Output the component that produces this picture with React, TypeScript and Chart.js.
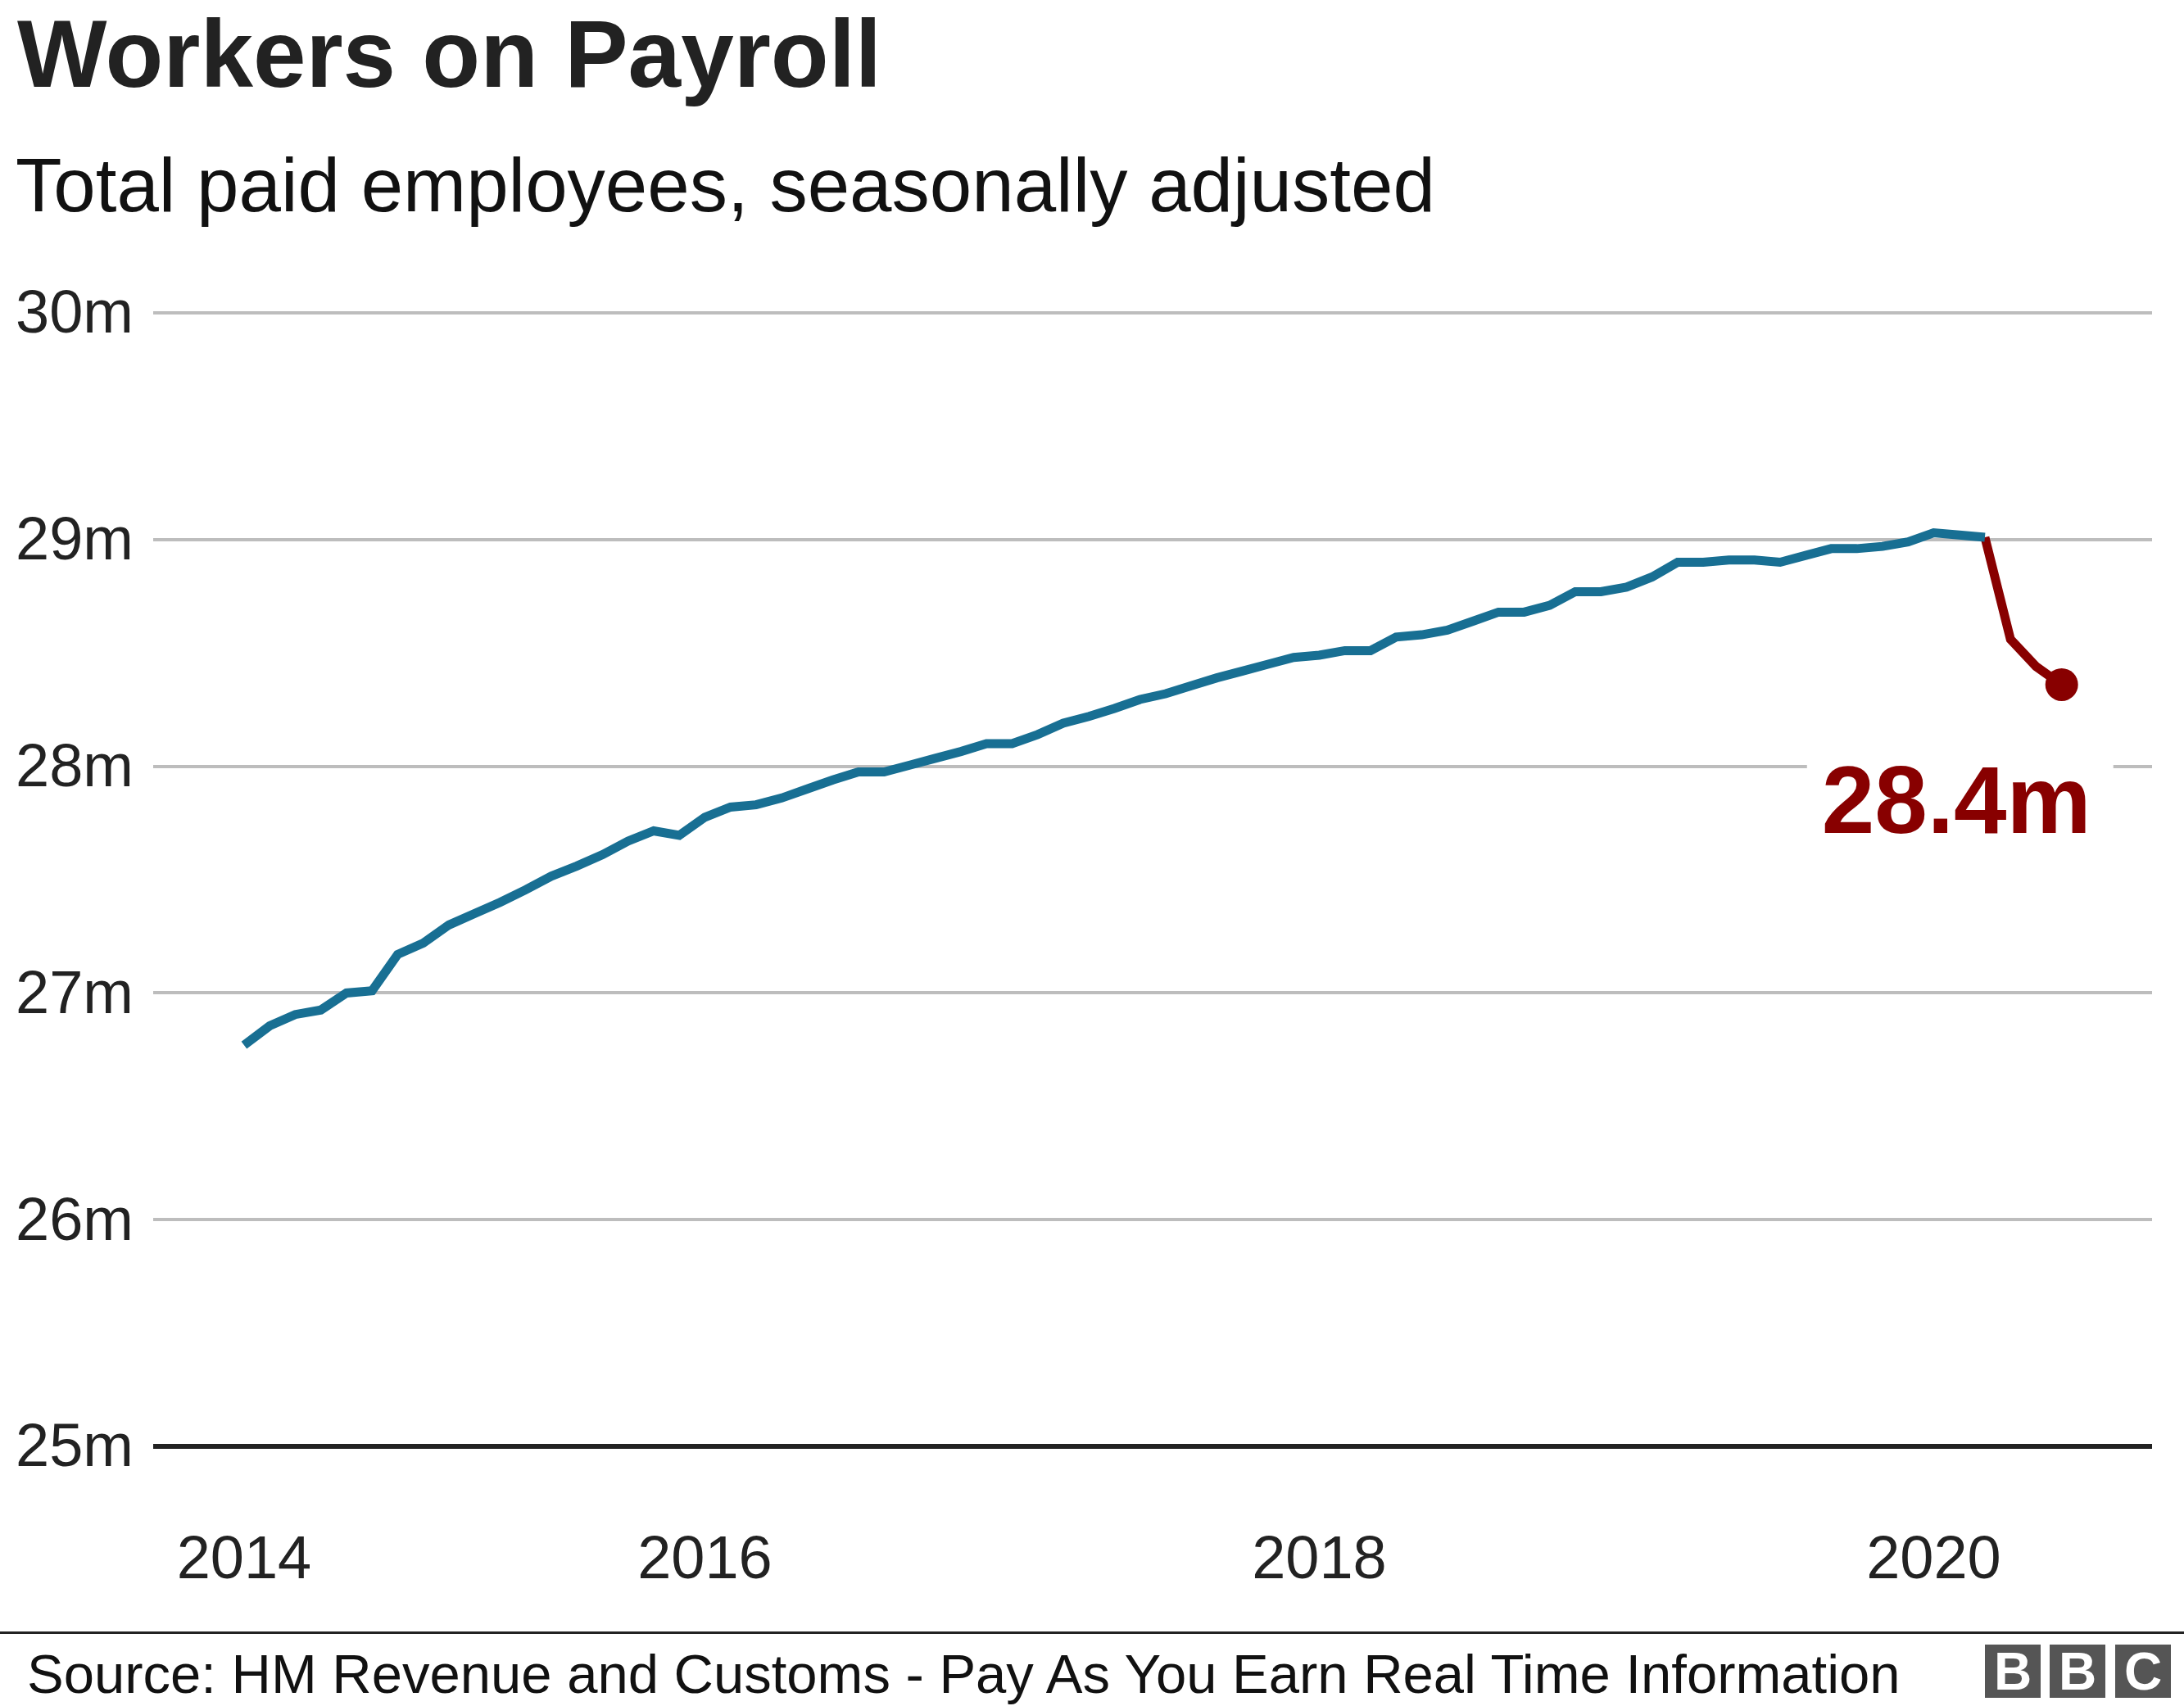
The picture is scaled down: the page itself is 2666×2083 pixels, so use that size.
import React, { useEffect, useRef } from "react";
import { Chart, registerables } from "chart.js";

Chart.register(...registerables);

// ---------------- data ----------------
const months = [
  "2014-07", "2014-08", "2014-09", "2014-10", "2014-11", "2014-12",
  "2015-01", "2015-02", "2015-03", "2015-04", "2015-05", "2015-06",
  "2015-07", "2015-08", "2015-09", "2015-10", "2015-11", "2015-12",
  "2016-01", "2016-02", "2016-03", "2016-04", "2016-05", "2016-06",
  "2016-07", "2016-08", "2016-09", "2016-10", "2016-11", "2016-12",
  "2017-01", "2017-02", "2017-03", "2017-04", "2017-05", "2017-06",
  "2017-07", "2017-08", "2017-09", "2017-10", "2017-11", "2017-12",
  "2018-01", "2018-02", "2018-03", "2018-04", "2018-05", "2018-06",
  "2018-07", "2018-08", "2018-09", "2018-10", "2018-11", "2018-12",
  "2019-01", "2019-02", "2019-03", "2019-04", "2019-05", "2019-06",
  "2019-07", "2019-08", "2019-09", "2019-10", "2019-11", "2019-12",
  "2020-01", "2020-02", "2020-03", "2020-04", "2020-05", "2020-06",
];

// Paid employees, millions
const payroll = [
  26.77, 26.855, 26.905, 26.925, 27.0, 27.01,
  27.17, 27.22, 27.3, 27.35, 27.4, 27.455,
  27.515, 27.56, 27.61, 27.67, 27.715, 27.695,
  27.775, 27.82, 27.83, 27.86, 27.9, 27.94,
  27.975, 27.975, 28.005, 28.035, 28.065, 28.1,
  28.1, 28.14, 28.19, 28.22, 28.255, 28.295,
  28.32, 28.355, 28.39, 28.42, 28.45, 28.48,
  28.49, 28.51, 28.51, 28.57, 28.58, 28.6,
  28.64, 28.68, 28.68, 28.71, 28.77, 28.77,
  28.79, 28.835, 28.9, 28.9, 28.91, 28.91,
  28.9, 28.93, 28.96, 28.96, 28.97, 28.99,
  29.03, 29.02, 29.01, 28.56, 28.44, 28.36,
];

const splitMonth = "2020-03"; // blue up to here, red afterwards
const xTickMonths = ["2014-07", "2016-01", "2018-01", "2020-01"];
const xTickLabels = ["2014", "2016", "2018", "2020"];
const yTicks = [25, 26, 27, 28, 29, 30];

const title = "Workers on Payroll";
const subtitle = "Total paid employees, seasonally adjusted";
const source = "Source: HM Revenue and Customs - Pay As You Earn Real Time Information";

// ---------------- styles ----------------
const FONT = '"Liberation Sans", Arial, Helvetica, sans-serif';
const BLUE = "#186f93";
const RED = "#880000";
const GRID = "#bdbdbd";
const INK = "#222222";

const W = 2666;
const H = 2083;

const endLabelPlugin = {
  id: "endLabel",
  afterDatasetsDraw(chart: any) {
    const meta = chart.getDatasetMeta(1);
    const pts = meta.data;
    const last = pts[pts.length - 1];
    if (!last) return;
    const val = payroll[payroll.length - 1];
    const text = val.toFixed(1) + "m";
    const ctx = chart.ctx;
    ctx.save();
    ctx.font = `bold 116px ${FONT}`;
    const tw = ctx.measureText(text).width;
    const right = last.x + 36;
    const baseline = last.y + 181;
    const left = right - tw;
    ctx.fillStyle = "#ffffff";
    ctx.fillRect(left - 18, baseline - 100, tw + 45, 110);
    ctx.fillStyle = RED;
    ctx.textAlign = "left";
    ctx.textBaseline = "alphabetic";
    ctx.fillText(text, left, baseline);
    ctx.restore();
  },
};

export default function App() {
  const ref = useRef<HTMLCanvasElement | null>(null);

  useEffect(() => {
    const canvas = ref.current;
    if (!canvas) return;
    const splitIdx = months.indexOf(splitMonth);
    const blueData = months
      .slice(0, splitIdx + 1)
      .map((m, i) => ({ x: i, y: payroll[i] }));
    const redData = months
      .slice(splitIdx)
      .map((m, i) => ({ x: splitIdx + i, y: payroll[splitIdx + i] }));
    const xTickValues = xTickMonths.map((m) => months.indexOf(m));

    const chart = new Chart(canvas, {
      type: "line",
      data: {
        datasets: [
          {
            data: blueData,
            borderColor: BLUE,
            borderWidth: 11,
            pointRadius: 0,
            tension: 0,
            borderCapStyle: "butt",
            borderJoinStyle: "miter",
          },
          {
            data: redData,
            borderColor: RED,
            backgroundColor: RED,
            borderWidth: 11,
            pointRadius: (c: any) => (c.dataIndex === redData.length - 1 ? 20 : 0),
            pointBorderWidth: 0,
            pointBackgroundColor: RED,
            tension: 0,
            borderCapStyle: "butt",
            borderJoinStyle: "miter",
          },
        ],
      },
      options: {
        responsive: false,
        animation: false,
        devicePixelRatio: 1,
        parsing: false as any,
        layout: { padding: { top: 382, right: 39, bottom: 0, left: 0 } },
        plugins: {
          legend: { display: false },
          tooltip: { enabled: false },
          title: { display: false },
        },
        scales: {
          x: {
            type: "linear",
            min: -3.55,
            max: 74.53,
            grid: { display: false },
            border: { display: false },
            afterFit: (s: any) => {
              s.height = H - 1766;
            },
            afterBuildTicks: (s: any) => {
              s.ticks = xTickValues.map((v) => ({ value: v }));
            },
            ticks: {
              autoSkip: false,
              maxRotation: 0,
              minRotation: 0,
              padding: 88,
              color: INK,
              font: { family: FONT, size: 74 },
              callback: (v: any, i: number) => xTickLabels[i],
            },
          },
          y: {
            min: 25,
            max: 30,
            afterFit: (s: any) => {
              s.width = 187;
            },
            afterBuildTicks: (s: any) => {
              s.ticks = yTicks.map((v) => ({ value: v }));
            },
            border: { display: false },
            grid: {
              drawTicks: false,
              color: (c: any) => (c.tick && c.tick.value === 25 ? INK : GRID),
              lineWidth: (c: any) => (c.tick && c.tick.value === 25 ? 6 : 4),
            },
            ticks: {
              padding: 24,
              labelOffset: 4,
              color: INK,
              font: { family: FONT, size: 74 },
              callback: (v: any) => `${v}m`,
            },
          },
        },
      },
      plugins: [endLabelPlugin],
    } as any);

    return () => chart.destroy();
  }, []);

  const logoBox = (left: number, letter: string) => (
    <div
      key={left}
      style={{
        position: "absolute",
        left,
        top: 2008,
        width: 68,
        height: 65,
        background: "#555555",
        color: "#ffffff",
        fontFamily: FONT,
        fontWeight: "bold",
        fontSize: 64,
        lineHeight: "67px",
        textAlign: "center",
      }}
    >
      {letter}
    </div>
  );

  return (
    <div
      style={{
        position: "absolute",
        left: 0,
        top: 0,
        width: W,
        height: H,
        background: "#ffffff",
        overflow: "hidden",
      }}
    >
      <canvas
        ref={ref}
        width={W}
        height={H}
        style={{ position: "absolute", left: 0, top: 0, width: W, height: H }}
      />
      <div
        style={{
          position: "absolute",
          left: 21,
          top: 8,
          fontFamily: FONT,
          fontWeight: "bold",
          fontSize: 116,
          lineHeight: "116px",
          color: INK,
          whiteSpace: "nowrap",
        }}
      >
        {title}
      </div>
      <div
        style={{
          position: "absolute",
          left: 19,
          top: 180,
          fontFamily: FONT,
          fontSize: 92.5,
          lineHeight: "92.5px",
          color: "#111111",
          whiteSpace: "nowrap",
        }}
      >
        {subtitle}
      </div>
      <div
        style={{
          position: "absolute",
          left: 0,
          top: 1992,
          width: W,
          height: 3,
          background: INK,
        }}
      />
      <div
        style={{
          position: "absolute",
          left: 33,
          top: 2010,
          fontFamily: FONT,
          fontSize: 67,
          lineHeight: "67px",
          color: "#111111",
          whiteSpace: "nowrap",
        }}
      >
        {source}
      </div>
      {logoBox(2423, "B")}
      {logoBox(2502, "B")}
      {logoBox(2582, "C")}
    </div>
  );
}
